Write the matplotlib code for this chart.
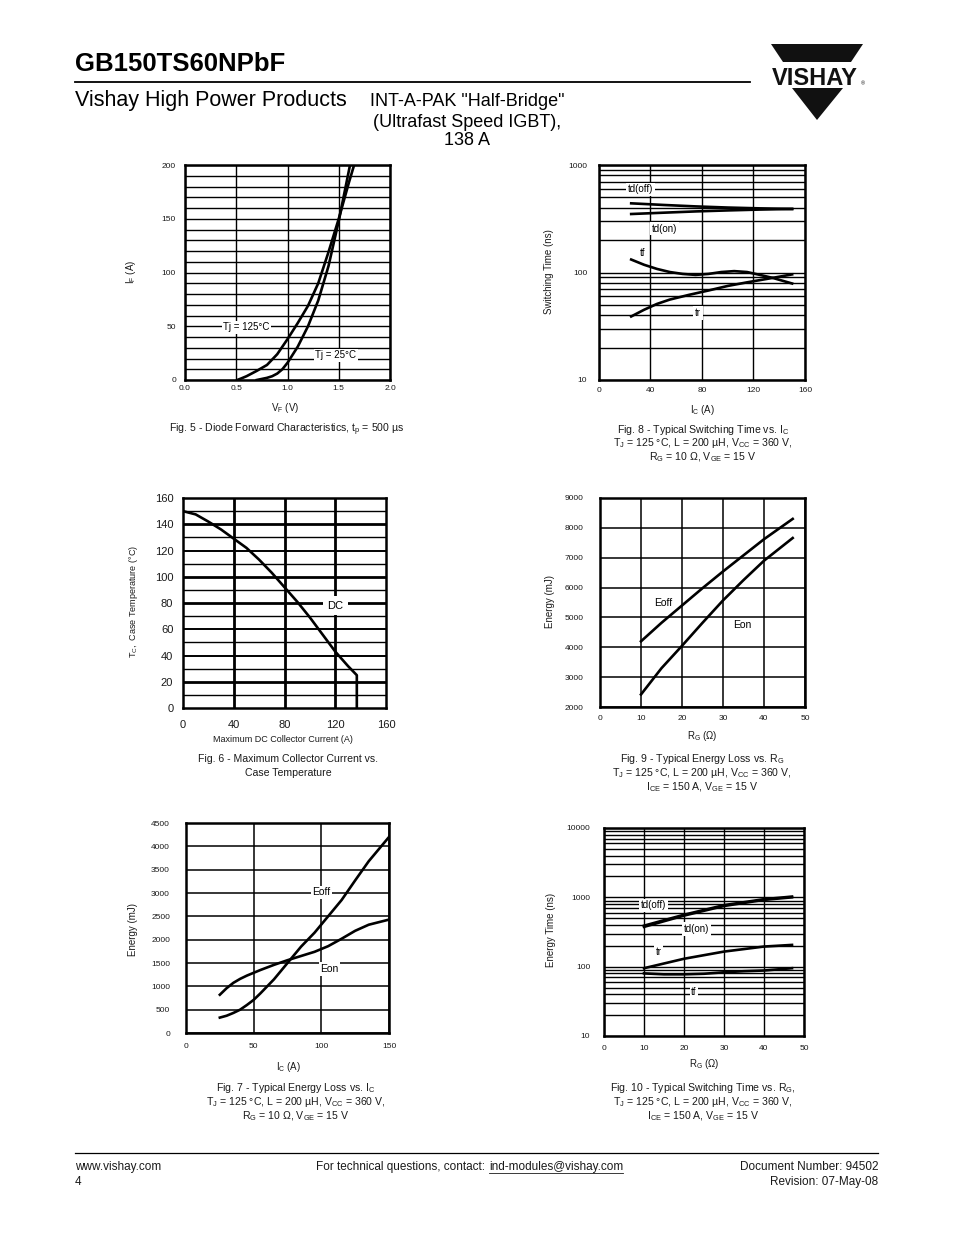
import matplotlib
matplotlib.use("Agg")
import matplotlib.pyplot as plt
import numpy as np
from matplotlib import font_manager
from matplotlib.ticker import MultipleLocator, FormatStrFormatter, LogLocator, NullFormatter
from matplotlib.patches import Polygon
from matplotlib.lines import Line2D

# ---- data ----
# Fig 5 - diode forward characteristics
vf_125 = [0.51, 0.55, 0.6, 0.65, 0.7, 0.8, 0.9, 1.0, 1.1, 1.2, 1.3, 1.4, 1.5, 1.6, 1.65]
if_125 = [0, 1.5, 3.5, 6, 8.5, 14, 24, 38, 53, 69, 90, 119, 150, 184, 200]
vf_25 = [0.70, 0.75, 0.8, 0.85, 0.9, 0.95, 1.0, 1.1, 1.2, 1.3, 1.4, 1.5, 1.61]
if_25 = [0, 1, 2, 3.5, 6, 10, 16, 31, 50, 74, 106, 148, 200]

# Fig 8 - switching time vs Ic
ic8_d = [25, 50, 75, 100, 125, 150]
tdoff8 = [440, 425, 412, 402, 395, 390]
tdon8 = [350, 360, 370, 378, 385, 390]
ic8_tf = [25, 35, 45, 55, 65, 75, 85, 95, 105, 115, 125, 135, 150]
tf8 = [132, 118, 108, 101, 97, 95, 97, 101, 103, 101, 95, 89, 79]
ic8_tr = [25, 35, 45, 55, 70, 85, 100, 115, 130, 150]
tr8 = [39, 45, 51, 56, 62, 68, 75, 81, 87, 96]

# Fig 6 - max DC collector current vs case temperature
ic6 = [0, 10, 20, 30, 40, 50, 60, 70, 80, 90, 100, 110, 120, 130, 137, 137]
tc6 = [150, 147.5, 142, 136, 129, 122, 113, 103, 92, 81, 69, 56, 43, 32, 25, 0]

# Fig 9 - energy loss vs Rg
rg9 = [10, 15, 20, 25, 30, 35, 40, 47]
eoff9 = [4200, 4820, 5400, 5980, 6540, 7080, 7620, 8300]
eon9 = [2420, 3300, 4050, 4820, 5570, 6250, 6900, 7660]

# Fig 7 - energy loss vs Ic
ic7 = [25, 30, 35, 40, 45, 50, 55, 65, 75, 85, 95, 105, 115, 125, 135, 150]
eoff7 = [330, 370, 430, 500, 600, 710, 850, 1150, 1500, 1850, 2150, 2500, 2850, 3270, 3680, 4200]
eon7 = [820, 960, 1075, 1160, 1230, 1290, 1350, 1460, 1560, 1650, 1740, 1860, 2020, 2190, 2320, 2430]

# Fig 10 - switching time vs Rg
rg10 = [10, 20, 30, 40, 47]
tdoff10 = [390, 561, 771, 940, 1026]
tdon10 = [375, 545, 750, 920, 1000]
tr10 = [95, 130, 165, 195, 206]
rg10_tf = [10, 15, 20, 25, 30, 35, 40, 47]
tf10 = [80, 77.5, 77.5, 79, 83, 86, 88, 95]

W, H = 954, 1235
names = {f.name for f in font_manager.fontManager.ttflist}
NARROW = 'Liberation Sans Narrow' if 'Liberation Sans Narrow' in names else 'Liberation Sans'

plt.rcParams['font.family'] = ['Liberation Sans', 'DejaVu Sans']
plt.rcParams['mathtext.fontset'] = 'custom'
plt.rcParams['mathtext.rm'] = 'Liberation Sans'
plt.rcParams['mathtext.it'] = 'Liberation Sans:italic'
plt.rcParams['mathtext.sf'] = 'Liberation Sans'

fig = plt.figure(figsize=(W / 100, H / 100), dpi=100)
TXT = '#1a1a1a'


def px_ax(x0, y0, x1, y1):
    return fig.add_axes([x0 / W, 1 - y1 / H, (x1 - x0) / W, (y1 - y0) / H])


def ftext(x, y, s, **kw):
    kw.setdefault('color', TXT)
    return fig.text(x / W, 1 - y / H, s, **kw)


def style(ax, fs, ypad, xpad):
    for s in ax.spines.values():
        s.set_linewidth(1.8)
    ax.tick_params(which='both', length=0, labelsize=fs, colors=TXT)
    ax.tick_params(axis='y', pad=ypad)
    ax.tick_params(axis='x', pad=xpad)


def log_minor(ax):
    ax.yaxis.set_minor_locator(LogLocator(base=10, subs=range(2, 10)))
    ax.yaxis.set_minor_formatter(NullFormatter())


box = dict(fc='white', ec='none', pad=1.2)
CW = 1.9

# ---------- Fig 5 ----------
ax5 = px_ax(185, 165, 390, 380)
ax5.plot(vf_125, if_125, 'k', lw=CW)
ax5.plot(vf_25, if_25, 'k', lw=CW)
ax5.set_xlim(0, 2)
ax5.set_ylim(0, 200)
ax5.xaxis.set_major_locator(MultipleLocator(0.5))
ax5.xaxis.set_major_formatter(FormatStrFormatter('%.1f'))
ax5.yaxis.set_major_locator(MultipleLocator(50))
ax5.yaxis.set_minor_locator(MultipleLocator(10))
ax5.grid(which='both', color='k', lw=1.0)
style(ax5, 6, 6.5, 3.6)
ax5.text(0.60, 49, 'Tj = 125°C', fontsize=7, ha='center', va='center', bbox=box)
ax5.text(1.47, 23, 'Tj = 25°C', fontsize=7, ha='center', va='center', bbox=box)
ftext(285, 408, 'V$_\\mathrm{F}$ (V)', fontsize=7, ha='center', va='center')
ftext(131, 272, 'I$_\\mathrm{F}$ (A)', fontsize=7, ha='center', va='center', rotation=90)

# ---------- Fig 8 ----------
ax8 = px_ax(599, 165, 805, 380)
ax8.plot(ic8_d, tdoff8, 'k', lw=CW)
ax8.plot(ic8_d, tdon8, 'k', lw=CW)
ax8.plot(ic8_tf, tf8, 'k', lw=CW)
ax8.plot(ic8_tr, tr8, 'k', lw=CW)
ax8.set_yscale('log')
ax8.set_xlim(0, 160)
ax8.set_ylim(10, 1000)
ax8.set_xticks([0, 40, 80, 120, 160])
ax8.set_yticks([10, 100, 1000], labels=['10', '100', '1000'])
log_minor(ax8)
ax8.grid(which='both', color='k', lw=1.0)
style(ax8, 6, 8.5, 5)
ax8.text(32, 594, 'td(off)', fontsize=7, ha='center', va='center', bbox=box)
ax8.text(51, 256, 'td(on)', fontsize=7, ha='center', va='center', bbox=box)
ax8.text(34, 151, 'tf', fontsize=7, ha='center', va='center', bbox=box)
ax8.text(77, 42, 'tr', fontsize=7, ha='center', va='center', bbox=box)
ftext(703, 410, 'I$_\\mathrm{C}$ (A)', fontsize=7, ha='center', va='center')
ftext(549, 272, 'Switching Time (ns)', fontsize=7, ha='center', va='center', rotation=90)

# ---------- Fig 6 ----------
ax6 = px_ax(183, 498, 386, 708)
ax6.plot(ic6, tc6, 'k', lw=CW)
ax6.set_xlim(0, 160)
ax6.set_ylim(0, 160)
ax6.set_xticks([0, 40, 80, 120, 160])
ax6.set_yticks(range(0, 161, 20))
for t in range(10, 160, 10):
    ax6.axhline(t, color='k', lw=2.0 if t in (20, 80, 100, 140) else (1.4 if t % 20 == 0 else 1.0), zorder=1)
for t in (40, 80, 120):
    ax6.axvline(t, color='k', lw=2.0, zorder=1)
style(ax6, 8, 7, 8.5)
ax6.text(120, 78, 'DC', fontsize=8, ha='center', va='center', bbox=dict(fc='white', ec='none', pad=3))
ftext(283, 740, 'Maximum DC Collector Current (A)', fontsize=6.5, ha='center', va='center')
ftext(134, 602, 'T$_\\mathrm{C}$,  Case Temperature (°C)', fontsize=6.5, ha='center', va='center', rotation=90)

# ---------- Fig 9 ----------
ax9 = px_ax(600, 498, 805, 707)
ax9.plot(rg9, eoff9, 'k', lw=CW)
ax9.plot(rg9, eon9, 'k', lw=CW)
ax9.set_xlim(0, 50)
ax9.set_ylim(2000, 9000)
ax9.xaxis.set_major_locator(MultipleLocator(10))
ax9.yaxis.set_major_locator(MultipleLocator(1000))
ax9.grid(which='major', color='k', lw=1.1)
style(ax9, 6, 12, 5.8)
ax9.text(15.3, 5500, 'Eoff', fontsize=7.5, ha='center', va='center', bbox=box)
ax9.text(34.6, 4760, 'Eon', fontsize=7.5, ha='center', va='center', bbox=box)
ftext(702, 736, 'R$_\\mathrm{G}$ (Ω)', fontsize=7, ha='center', va='center')
ftext(550, 601, 'Energy (mJ)', fontsize=7, ha='center', va='center', rotation=90)

# ---------- Fig 7 ----------
ax7 = px_ax(186, 823, 389, 1033)
ax7.plot(ic7, eoff7, 'k', lw=CW)
ax7.plot(ic7, eon7, 'k', lw=CW)
ax7.set_xlim(0, 150)
ax7.set_ylim(0, 4500)
ax7.xaxis.set_major_locator(MultipleLocator(50))
ax7.yaxis.set_major_locator(MultipleLocator(500))
ax7.grid(which='major', color='k', lw=1.1)
style(ax7, 6, 11.5, 7)
ax7.text(100, 3014, 'Eoff', fontsize=7.5, ha='center', va='center', bbox=box)
ax7.text(106, 1371, 'Eon', fontsize=7.5, ha='center', va='center', bbox=box)
ftext(289, 1067, 'I$_\\mathrm{C}$ (A)', fontsize=7, ha='center', va='center')
ftext(133, 930, 'Energy (mJ)', fontsize=7, ha='center', va='center', rotation=90)

# ---------- Fig 10 ----------
ax10 = px_ax(604, 828, 804, 1036)
ax10.plot(rg10, tdoff10, 'k', lw=CW)
ax10.plot(rg10, tdon10, 'k', lw=CW)
ax10.plot(rg10, tr10, 'k', lw=CW)
ax10.plot(rg10_tf, tf10, 'k', lw=CW)
ax10.set_yscale('log')
ax10.set_xlim(0, 50)
ax10.set_ylim(10, 10000)
ax10.xaxis.set_major_locator(MultipleLocator(10))
ax10.set_yticks([10, 100, 1000, 10000], labels=['10', '100', '1000', '10000'])
log_minor(ax10)
ax10.grid(which='both', color='k', lw=1.0)
style(ax10, 6, 10, 6.5)
ax10.text(12.3, 771, 'td(off)', fontsize=7, ha='center', va='center', bbox=box)
ax10.text(23.1, 349, 'td(on)', fontsize=7, ha='center', va='center', bbox=box)
ax10.text(13.6, 162, 'tr', fontsize=7, ha='center', va='center', bbox=box)
ax10.text(22.5, 43, 'tf', fontsize=7, ha='center', va='center', bbox=box)
ftext(704, 1064, 'R$_\\mathrm{G}$ (Ω)', fontsize=7, ha='center', va='center')
ftext(551, 930, 'Energy Time (ns)', fontsize=7, ha='center', va='center', rotation=90)

# ---------- captions ----------
CF = 7.6
ftext(287, 430, 'Fig. 5 - Diode Forward Characteristics, t$_\\mathrm{p}$ = 500 µs', fontsize=CF, ha='center', va='center')
ftext(703, 430, 'Fig. 8 - Typical Switching Time vs. I$_\\mathrm{C}$', fontsize=CF, ha='center', va='center')
ftext(703, 443, 'T$_\\mathrm{J}$ = 125 °C, L = 200 µH, V$_\\mathrm{CC}$ = 360 V,', fontsize=CF, ha='center', va='center')
ftext(703, 457, 'R$_\\mathrm{G}$ = 10 Ω, V$_\\mathrm{GE}$ = 15 V', fontsize=CF, ha='center', va='center')
ftext(288, 759, 'Fig. 6 - Maximum Collector Current vs.', fontsize=CF, ha='center', va='center')
ftext(288, 773, 'Case Temperature', fontsize=CF, ha='center', va='center')
ftext(702, 759, 'Fig. 9 - Typical Energy Loss vs. R$_\\mathrm{G}$', fontsize=CF, ha='center', va='center')
ftext(702, 773, 'T$_\\mathrm{J}$ = 125 °C, L = 200 µH, V$_\\mathrm{CC}$ = 360 V,', fontsize=CF, ha='center', va='center')
ftext(702, 787, 'I$_\\mathrm{CE}$ = 150 A, V$_\\mathrm{GE}$ = 15 V', fontsize=CF, ha='center', va='center')
ftext(296, 1088, 'Fig. 7 - Typical Energy Loss vs. I$_\\mathrm{C}$', fontsize=CF, ha='center', va='center')
ftext(296, 1102, 'T$_\\mathrm{J}$ = 125 °C, L = 200 µH, V$_\\mathrm{CC}$ = 360 V,', fontsize=CF, ha='center', va='center')
ftext(296, 1116, 'R$_\\mathrm{G}$ = 10 Ω, V$_\\mathrm{GE}$ = 15 V', fontsize=CF, ha='center', va='center')
ftext(703, 1088, 'Fig. 10 - Typical Switching Time vs. R$_\\mathrm{G}$,', fontsize=CF, ha='center', va='center')
ftext(703, 1102, 'T$_\\mathrm{J}$ = 125 °C, L = 200 µH, V$_\\mathrm{CC}$ = 360 V,', fontsize=CF, ha='center', va='center')
ftext(703, 1116, 'I$_\\mathrm{CE}$ = 150 A, V$_\\mathrm{GE}$ = 15 V', fontsize=CF, ha='center', va='center')

# ---------- header ----------
ftext(75, 71, 'GB150TS60NPbF', fontsize=18.5, fontweight='bold', family=NARROW, color='k', va='baseline')
fig.add_artist(Line2D([75 / W, 750 / W], [1 - 82 / H, 1 - 82 / H], color='k', lw=1.3))
ftext(75, 106, 'Vishay High Power Products', fontsize=15.5, family=NARROW, color='k', va='baseline')
ftext(467, 106, 'INT-A-PAK "Half-Bridge"', fontsize=13, family=NARROW, color='k', ha='center', va='baseline')
ftext(467, 127, '(Ultrafast Speed IGBT),', fontsize=13, family=NARROW, color='k', ha='center', va='baseline')
ftext(467, 145, '138 A', fontsize=13, family=NARROW, color='k', ha='center', va='baseline')

# Vishay logo
def pxpoly(pts):
    return Polygon([(x / W, 1 - y / H) for x, y in pts], closed=True, fc='#111111', ec='none',
                   transform=fig.transFigure)

fig.add_artist(pxpoly([(771, 44), (863, 44), (851, 62), (783, 62)]))
fig.add_artist(pxpoly([(792, 88), (843, 88), (817, 120)]))
ftext(815, 85, 'VISHAY', fontsize=17, fontweight='bold', family=NARROW, color='#111111', ha='center', va='baseline')
ftext(863, 85, '®', fontsize=4, color='#111111', ha='center', va='baseline')

# ---------- footer ----------
fig.add_artist(Line2D([75 / W, 878 / W], [1 - 1153 / H, 1 - 1153 / H], color='k', lw=0.9))
FF = 8.5
ftext(75, 1170, 'www.vishay.com', fontsize=FF, family=NARROW, va='baseline')
ftext(75, 1185, '4', fontsize=FF, family=NARROW, va='baseline')
ftext(488, 1170, 'For technical questions, contact: ', fontsize=FF, family=NARROW, ha='right', va='baseline')
em = ftext(489, 1170, 'ind-modules@vishay.com', fontsize=FF, family=NARROW, ha='left', va='baseline')
ftext(878, 1170, 'Document Number: 94502', fontsize=FF, family=NARROW, ha='right', va='baseline')
ftext(878, 1185, 'Revision: 07-May-08', fontsize=FF, family=NARROW, ha='right', va='baseline')
bb = em.get_window_extent(renderer=fig.canvas.get_renderer())
fig.add_artist(Line2D([bb.x0 / W, bb.x1 / W], [1 - 1172.5 / H, 1 - 1172.5 / H], color=TXT, lw=0.6))

fig.savefig('out.png', dpi=100)
